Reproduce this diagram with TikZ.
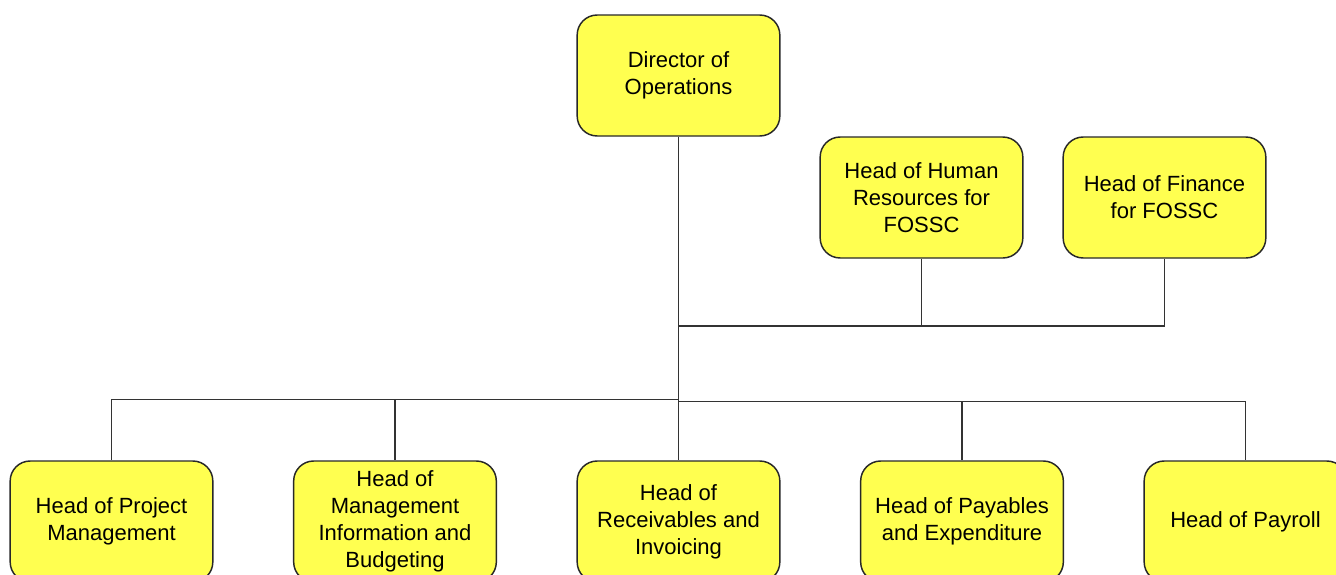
\documentclass[tikz,border=0pt]{standalone}
\usepackage{fontspec}
\setmainfont{Liberation Sans}
\definecolor{boxfill}{RGB}{255,255,80}
\definecolor{edge}{RGB}{40,40,40}
\begin{document}
\begin{tikzpicture}[x=0.75pt,y=-0.75pt,
  rolebox/.style={draw=edge,line width=1.1pt,fill=boxfill,rounded corners=15pt,
    minimum width=152pt,minimum height=90.75pt,inner sep=0pt,align=center,
    font=\fontsize{16.5pt}{20.25pt}\selectfont},
  link/.style={draw=black!80,line width=1.1pt}]
\useasboundingbox (0,0) rectangle (1336,575);
\node[rolebox] (dir) at (678.5,75.5) {Director of\\Operations};
\node[rolebox] (hr) at (921.5,197.5) {Head of Human\\Resources for\\FOSSC};
\node[rolebox] (fin) at (1164.5,197.5) {Head of Finance\\for FOSSC};
\node[rolebox] (pm) at (111.5,521.5) {Head of Project\\Management};
\node[rolebox] (mib) at (395,521.5) {Head of\\Management\\Information and\\Budgeting};
\node[rolebox] (rec) at (678.5,521.5) {Head of\\Receivables and\\Invoicing};
\node[rolebox] (pay) at (962,521.5) {Head of Payables\\and Expenditure};
\node[rolebox] (prl) at (1245.5,521.5) {Head of Payroll};
\coordinate (j1) at (678.5,326);
\coordinate (jl) at (678.5,399.5);
\coordinate (jr) at (678.5,401.5);
\draw[link] (dir.south) -- (rec.north);
\draw[link] (j1) -| (hr.south);
\draw[link] (j1) -| (fin.south);
\draw[link] (jl) -| (pm.north);
\draw[link] (jl) -| (mib.north);
\draw[link] (jr) -| (pay.north);
\draw[link] (jr) -| (prl.north);
\end{tikzpicture}
\end{document}
